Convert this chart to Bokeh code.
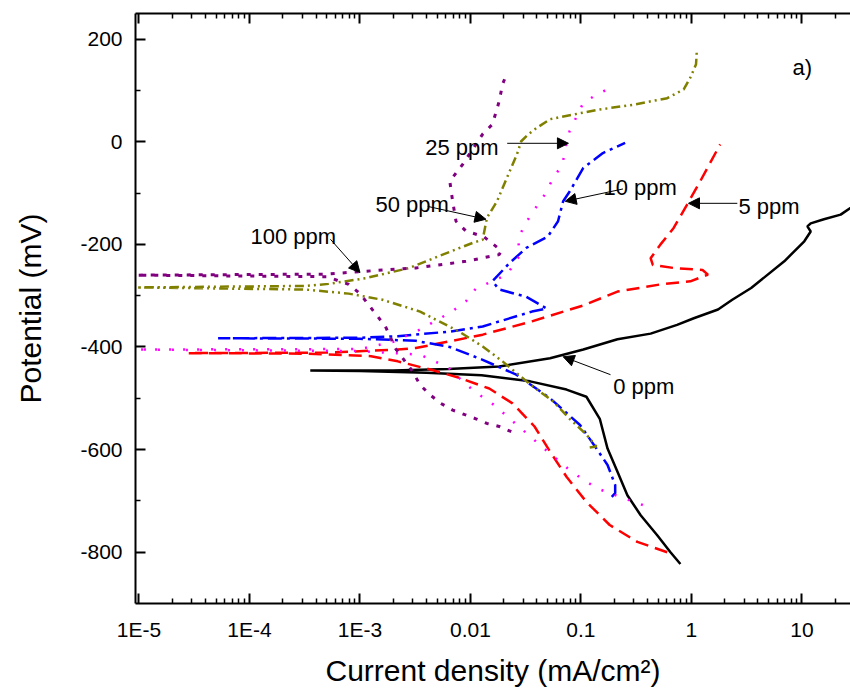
from bokeh.plotting import figure
from bokeh.models import (FixedTicker, CustomJSTickFormatter, LogAxis, Arrow,
                          NormalHead, ColumnDataSource)
from bokeh.core.properties import value
from bokeh.embed import file_html
from bokeh.resources import INLINE

# ---------------- data (current density mA/cm2, potential mV) ----------------
x_0ppm = [0.794, 0.646, 0.49, 0.347, 0.263, 0.214, 0.174, 0.148, 0.112, 0.074, 0.0347,
          0.0126, 0.004, 0.001, 3.55e-4, 0.002, 0.0063, 0.0182, 0.0525, 0.105, 0.214,
          0.427, 0.741, 1.05, 1.74, 2.34, 3.47, 6.92, 10.5, 12.0, 11.2, 12.0, 15.8, 22.4, 31.6]
y_0ppm = [-823, -800, -767, -728, -689, -643, -598, -540, -497, -483, -467,
          -455, -450, -447, -446, -446, -443, -438, -422, -405, -385,
          -374, -357, -344, -327, -308, -285, -233, -194, -175, -165, -159, -151, -142, -120]

x_5ppm = [0.603, 0.324, 0.182, 0.112, 0.074, 0.0525, 0.038, 0.024, 0.0148, 0.0079, 0.0045,
          0.0022, 0.00126, 3.2e-4, 2.8e-5, 5e-4, 0.0022, 0.0032, 0.0065, 0.0129, 0.036,
          0.105, 0.214, 0.525, 0.977, 1.41, 1.26, 0.69, 0.447, 0.427, 0.525, 0.69, 0.91, 1.2, 1.82]
y_5ppm = [-800, -780, -747, -702, -653, -604, -555, -510, -481, -460, -445,
          -428, -418, -413, -412, -411, -405, -402, -389, -376, -350,
          -319, -292, -278, -272, -259, -250, -246, -240, -227, -200, -168, -123, -77, -5]

x_10ppm = [0.19, 0.204, 0.204, 0.174, 0.138, 0.098, 0.0525, 0.026, 0.0129, 0.0065, 0.0032,
           0.001, 5.2e-5, 0.001, 0.0022, 0.0065, 0.0129, 0.036, 0.049, 0.032, 0.0182,
           0.0158, 0.0224, 0.032, 0.05, 0.062, 0.069, 0.079, 0.105, 0.158, 0.251]
y_10ppm = [-692, -685, -669, -630, -598, -552, -500, -454, -425, -400, -388,
           -384, -383, -382, -379, -370, -360, -331, -325, -302, -288,
           -272, -237, -207, -185, -155, -116, -97, -51, -22, -2]

x_25ppm = [0.363, 0.269, 0.141, 0.102, 0.076, 0.041, 0.0295, 0.0219, 0.0166, 0.012, 0.0091,
           0.0063, 0.0035, 0.001, 9.5e-6, 0.001, 0.002, 0.0035, 0.0068, 0.0091, 0.0112,
           0.0214, 0.0282, 0.0269, 0.031, 0.038, 0.047, 0.056, 0.068, 0.074, 0.079,
           0.105, 0.141, 0.204]
y_25ppm = [-708, -698, -676, -657, -637, -588, -561, -537, -514, -493, -473,
           -440, -415, -408, -405, -404, -390, -366, -331, -311, -286,
           -259, -220, -191, -161, -132, -103, -71, -44, -2, 21,
           76, 93, 109]

x_50ppm = [0.12, 0.138, 0.11, 0.079, 0.056, 0.0347, 0.0195, 0.0129, 0.0079, 0.0052, 0.0035,
           0.0016, 7.9e-4, 3.2e-4, 9.5e-6, 3.2e-4, 5.2e-4, 0.00112, 0.0028, 0.0056, 0.0105,
           0.0129, 0.0141, 0.0174, 0.0214, 0.0263, 0.0288, 0.0331, 0.0398, 0.0525, 0.085,
           0.148, 0.295, 0.603, 0.851, 0.977, 1.10, 1.12]
y_50ppm = [-596, -594, -569, -540, -506, -473, -428, -399, -370, -350, -331,
           -308, -296, -288, -284, -281, -277, -266, -246, -220, -197,
           -191, -148, -116, -70, -25, 1, 14, 27, 44, 53,
           63, 72, 85, 102, 125, 151, 180]

x_100ppm = [0.0234, 0.0182, 0.0141, 0.0112, 0.0089, 0.0069, 0.0054, 0.0043, 0.0035, 0.003,
            0.0021, 0.0017, 0.0012, 0.001, 7.9e-4, 5e-4, 9.5e-6, 5e-4, 0.001, 0.0032, 0.0091,
            0.0182, 0.019, 0.0132, 0.0091, 0.0074, 0.0069, 0.0065, 0.0085, 0.0112, 0.0129,
            0.0158, 0.0182, 0.0195, 0.0209]
y_100ppm = [-565, -555, -549, -540, -532, -523, -510, -493, -474, -448,
            -403, -360, -318, -296, -278, -263, -260, -258, -253, -246, -233,
            -220, -212, -185, -174, -155, -116, -77, -44, -5, 15,
            34, 79, 112, 128]

series_names = ["0 ppm", "5 ppm", "10 ppm", "25 ppm", "50 ppm", "100 ppm"]

# annotation labels
label_text = ["100 ppm", "50 ppm", "25 ppm", "10 ppm", "5 ppm", "0 ppm", "a)"]
label_x = [1.02e-4, 1.38e-3, 3.9e-3, 0.16, 2.66, 0.196, 8.2]
label_y = [-184, -122, -12, -90, -127, -477, 144]

arrow_x0 = [5.4e-4, 4.1e-3, 0.0215, 0.24, 2.6, 0.185]
arrow_y0 = [-190, -126, -3, -92, -120, -454]
arrow_x1 = [0.001, 0.0138, 0.077, 0.072, 0.94, 0.069]
arrow_y1 = [-255, -151, -3, -116, -120, -419]

# ticks
x_tick_vals = [1e-5, 1e-4, 1e-3, 1e-2, 1e-1, 1, 10]
x_tick_labels = ["1E-5", "1E-4", "1E-3", "0.01", "0.1", "1", "10"]
y_tick_vals = [-800, -600, -400, -200, 0, 200]
y_tick_labels = ["-800", "-600", "-400", "-200", "0", "200"]
y_minor_vals = [-700, -500, -300, -100, 100]

# ---------------- figure ----------------
FONT = "Liberation Sans"

p = figure(width=850, height=693, x_axis_type="log",
           x_range=(9.3e-6, 27.5), y_range=(-900, 250),
           output_backend="svg", toolbar_location=None,
           min_border_left=135, min_border_right=0,
           min_border_top=13, min_border_bottom=90)
p.outline_line_color = None
p.xgrid.visible = False
p.ygrid.visible = False
p.background_fill_color = "white"
p.border_fill_color = "white"

x_minor = []
for d in x_tick_vals + [100]:
    for m in range(2, 10):
        x_minor.append(m * d / 10)
xticker = FixedTicker(ticks=x_tick_vals, minor_ticks=x_minor)
yticker = FixedTicker(ticks=y_tick_vals, minor_ticks=y_minor_vals)

xfmt = CustomJSTickFormatter(args=dict(vals=x_tick_vals, labs=x_tick_labels), code="""
let best = 0, bd = Infinity;
for (let i = 0; i < vals.length; i++) {
  const d = Math.abs(Math.log10(vals[i]) - Math.log10(tick));
  if (d < bd) { bd = d; best = i; }
}
return labs[best];
""")
yfmt = CustomJSTickFormatter(args=dict(vals=y_tick_vals, labs=y_tick_labels), code="""
let best = 0, bd = Infinity;
for (let i = 0; i < vals.length; i++) {
  const d = Math.abs(vals[i] - tick);
  if (d < bd) { bd = d; best = i; }
}
return labs[best];
""")

def style_axis(ax):
    ax.axis_line_width = 2
    ax.axis_line_color = "black"
    ax.major_tick_line_width = 2
    ax.minor_tick_line_width = 1.5
    ax.major_tick_in = 10
    ax.major_tick_out = 0
    ax.minor_tick_in = 5
    ax.minor_tick_out = 0
    ax.major_label_text_font = FONT
    ax.major_label_text_font_size = "21px"
    ax.major_label_text_color = "black"
    ax.axis_label_text_font = FONT
    ax.axis_label_text_font_size = "30px"
    ax.axis_label_text_font_style = "normal"
    ax.axis_label_text_color = "black"

xa = p.xaxis[0]
style_axis(xa)
xa.ticker = xticker
xa.formatter = xfmt
xa.major_label_standoff = 14
xa.axis_label = "Current density (mA/cm²)"
xa.axis_label_standoff = 10

ya = p.yaxis[0]
style_axis(ya)
ya.ticker = yticker
ya.formatter = yfmt
ya.major_label_standoff = 13
ya.axis_label = "Potential (mV)"
ya.axis_label_standoff = 30

top = LogAxis(ticker=FixedTicker(ticks=x_tick_vals, minor_ticks=x_minor))
style_axis(top)
top.major_label_text_font_size = "2px"
top.major_label_text_color = None
top.major_label_standoff = 0
p.add_layout(top, "above")

# ---------------- curves ----------------
p.line(x_0ppm, y_0ppm, line_color="black", line_width=2.5)
p.line(x_5ppm, y_5ppm, line_color="#FF0000", line_width=2.5, line_dash="13 7")
p.line(x_10ppm, y_10ppm, line_color="#0000FF", line_width=2.5, line_dash="14 5 3 5")
p.line(x_25ppm, y_25ppm, line_color="#FF00FF", line_width=2.5, line_dash="2 12")
p.line(x_50ppm, y_50ppm, line_color="#808000", line_width=2.5, line_dash="9 4 2 4 2 4")
p.line(x_100ppm, y_100ppm, line_color="#800080", line_width=3, line_dash="4 8")

# ---------------- annotations ----------------
arr_src = ColumnDataSource(dict(x0=arrow_x0, y0=arrow_y0, x1=arrow_x1, y1=arrow_y1))
p.add_layout(Arrow(end=NormalHead(size=11, fill_color="black", line_color="black", line_width=1),
                   x_start="x0", y_start="y0", x_end="x1", y_end="y1",
                   source=arr_src, line_color="black", line_width=1))

lab_src = ColumnDataSource(dict(x=label_x, y=label_y, t=label_text))
p.text(x="x", y="y", text="t", source=lab_src, text_font=value(FONT),
       text_font_size="22px", text_baseline="alphabetic", text_align="left",
       text_color="black")

open("out.html", "w").write(file_html(p, INLINE))
